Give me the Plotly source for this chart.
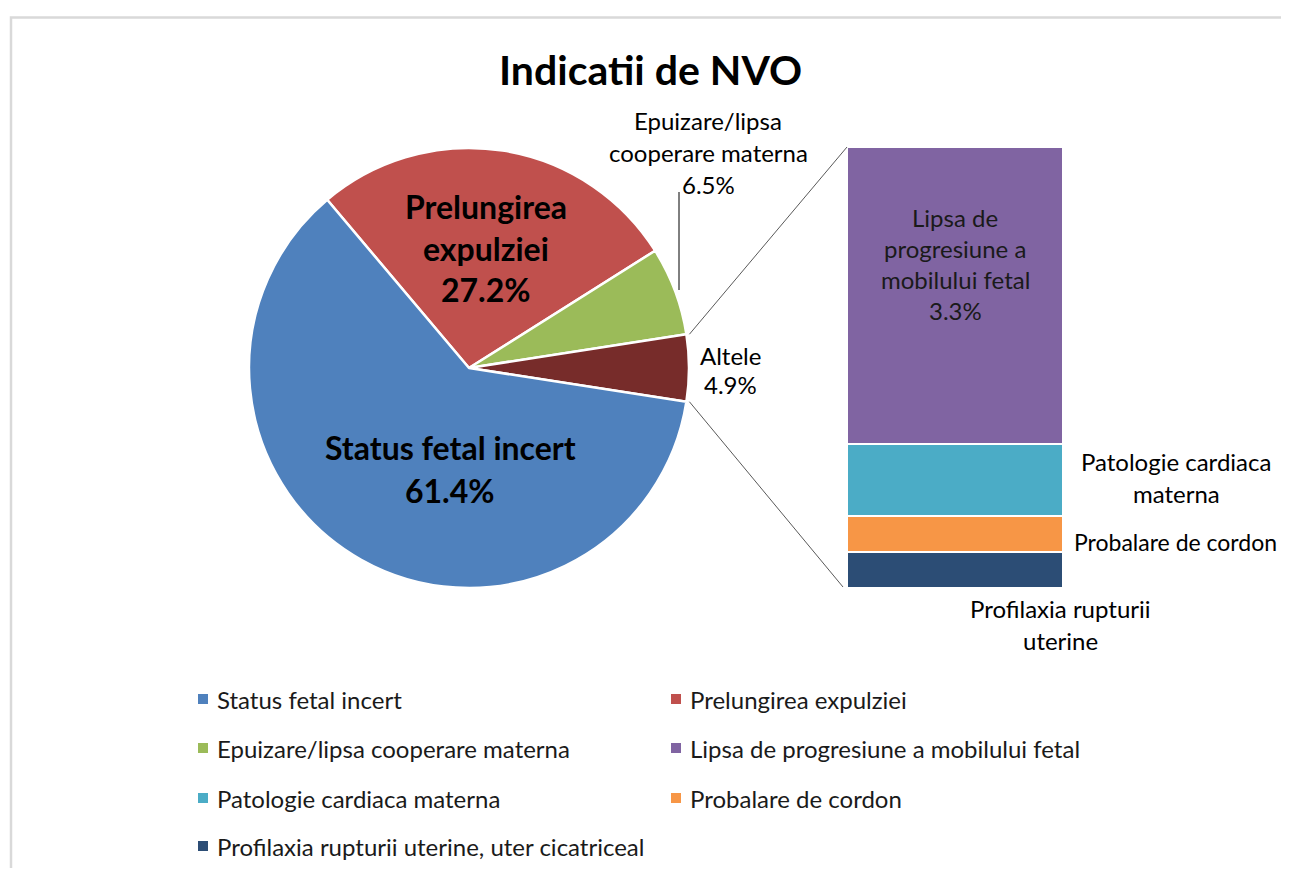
import math
import plotly.graph_objects as go

# ---------------- data ----------------
pie_labels = ["Status fetal incert", "Prelungirea expulziei",
              "Epuizare/lipsa cooperare materna", "Altele"]
pie_values = [61.4, 27.2, 6.5, 4.9]

bar_labels = ["Lipsa de progresiune a mobilului fetal", "Patologie cardiaca materna",
              "Probalare de cordon", "Profilaxia rupturii uterine, uter cicatriceal"]
bar_values = [3.3, 0.8, 0.4, 0.4]

title_text = "Indicatii de NVO"

# ---------------- style ----------------
OFF = 8                      # page body margin
W, H = 1289 - 2 * OFF, 876 - 2 * OFF
FONT = "Lato, 'Open Sans', sans-serif"
pie_colors = {"Status fetal incert": "#4F81BD", "Prelungirea expulziei": "#C0504D",
              "Epuizare/lipsa cooperare materna": "#9BBB59", "Altele": "#772C2A"}
bar_colors = {bar_labels[0]: "#8064A2", bar_labels[1]: "#4BACC6",
              bar_labels[2]: "#F79646", bar_labels[3]: "#2C4D75"}

# pie geometry (screen pixels)
cx, cy, r = 469, 368, 220
# bar geometry (screen pixels)
bx0, bx1, by0, by1 = 847, 1063, 147, 588


def px(x):
    return (x - OFF) / W


def py(y):
    return 1 - (y - OFF) / H


fig = go.Figure()

# Pie, ordered clockwise starting with Prelungirea; the "Altele" slice is centred on 3 o'clock
order = [1, 2, 3, 0]
tot = sum(pie_values)
alt = pie_values[3]
epu = pie_values[2]
prel = pie_values[1]
start_ccw_from_east = (alt / 2 + epu + prel) / tot * 360
rotation = 90 - start_ccw_from_east
fig.add_trace(go.Pie(
    labels=[pie_labels[i] for i in order],
    values=[pie_values[i] for i in order],
    marker=dict(colors=[pie_colors[pie_labels[i]] for i in order],
                line=dict(color="white", width=2.5)),
    sort=False, direction="clockwise", rotation=rotation,
    textinfo="none", hoverinfo="label+percent", showlegend=False,
    domain=dict(x=[px(cx - r), px(cx + r)], y=[py(cy + r), py(cy - r)]),
))

# Stacked bar (bottom to top: reversed order)
for lab, val in list(zip(bar_labels, bar_values))[::-1]:
    fig.add_trace(go.Bar(
        x=[0], y=[val], width=1, name=lab,
        marker=dict(color=bar_colors[lab], line=dict(color="white", width=1.5)),
        showlegend=False, hoverinfo="name+y",
    ))

fig.update_layout(
    barmode="stack",
    xaxis=dict(domain=[px(bx0), px(bx1)], range=[-0.5, 0.5], visible=False, fixedrange=True),
    yaxis=dict(domain=[py(by1), py(by0)], range=[0, sum(bar_values)], visible=False, fixedrange=True),
)

ann = []
shapes = []


def add_text(lines, x, y, size, bold=False, spacing=None, xanchor="center", color="#000000"):
    spacing = spacing or size * 1.4
    n = len(lines)
    for i, line in enumerate(lines):
        yy = y + (i - (n - 1) / 2) * spacing
        ann.append(dict(
            x=px(x), y=py(yy), xref="paper", yref="paper",
            text=f"<b>{line}</b>" if bold else line,
            showarrow=False, xanchor=xanchor, yanchor="middle",
            font=dict(family=FONT, size=size, color=color),
        ))


# title
add_text([title_text], 651, 70, 41, bold=True)

# pie labels
pct = lambda v: f"{v:.1f}%"
add_text(["Prelungirea", "expulziei", pct(pie_values[1])], 486, 248, 32, bold=True, spacing=42)
add_text(["Status fetal incert", pct(pie_values[0])], 450, 469, 32, bold=True, spacing=43)
add_text(["Epuizare/lipsa", "cooperare materna", pct(pie_values[2])], 708, 153, 24, spacing=32)
add_text([pie_labels[3], pct(pie_values[3])], 730, 370, 24, spacing=30)

# leader line for Epuizare
shapes.append(dict(type="line", xref="paper", yref="paper",
                   x0=px(679), x1=px(679), y0=py(192), y1=py(290),
                   line=dict(color="#000000", width=1)))

# bar labels
add_text(["Lipsa de", "progresiune a", "mobilului fetal", pct(bar_values[0])], 955, 264, 24, spacing=31,
         color="#1a1a1a")
add_text(["Patologie cardiaca", "materna"], 1176, 477, 24, spacing=32)
add_text(["Probalare de cordon"], 1175, 542, 23)
add_text(["Profilaxia rupturii", "uterine"], 1060, 624, 24, spacing=32)

# connector lines from the "Altele" slice to the bar
half = alt / tot * 360 / 2
ang = math.radians(half)
pt_top = (cx + r * math.cos(ang), cy - r * math.sin(ang))
pt_bot = (cx + r * math.cos(ang), cy + r * math.sin(ang))
for (x0, y0), (x1, y1) in [(pt_top, (bx0, by0)), (pt_bot, (bx0 - 4, by1 - 1))]:
    shapes.append(dict(type="line", xref="paper", yref="paper",
                       x0=px(x0 + 3), y0=py(y0), x1=px(x1), y1=py(y1),
                       line=dict(color="#595959", width=1)))

# legend (manual, two columns)
legend_items = [pie_labels[0], pie_labels[1], pie_labels[2]] + bar_labels
leg_colors = {**pie_colors, **bar_colors}
col_x = [203, 676]
row_y = [699, 748, 798, 846]
for k, lab in enumerate(legend_items):
    sx = col_x[k % 2]
    sy = row_y[k // 2]
    shapes.append(dict(type="rect", xref="paper", yref="paper",
                       x0=px(sx - 5), x1=px(sx + 5), y0=py(sy + 5), y1=py(sy - 5),
                       fillcolor=leg_colors[lab], line=dict(width=0)))
    add_text([lab], sx + 12, sy, 24, xanchor="left", color="#1a1a1a")

# chart frame
shapes.append(dict(type="rect", xref="paper", yref="paper",
                   x0=px(11), x1=px(1310), y0=py(17.5), y1=py(900),
                   line=dict(color="#d9d9d9", width=2.5), fillcolor="rgba(0,0,0,0)", layer="below"))

fig.update_layout(
    width=W, height=H, margin=dict(l=0, r=0, t=0, b=0),
    paper_bgcolor="white", plot_bgcolor="white",
    annotations=ann, shapes=shapes,
    font=dict(family=FONT),
)

fig.write_html("out.html")
